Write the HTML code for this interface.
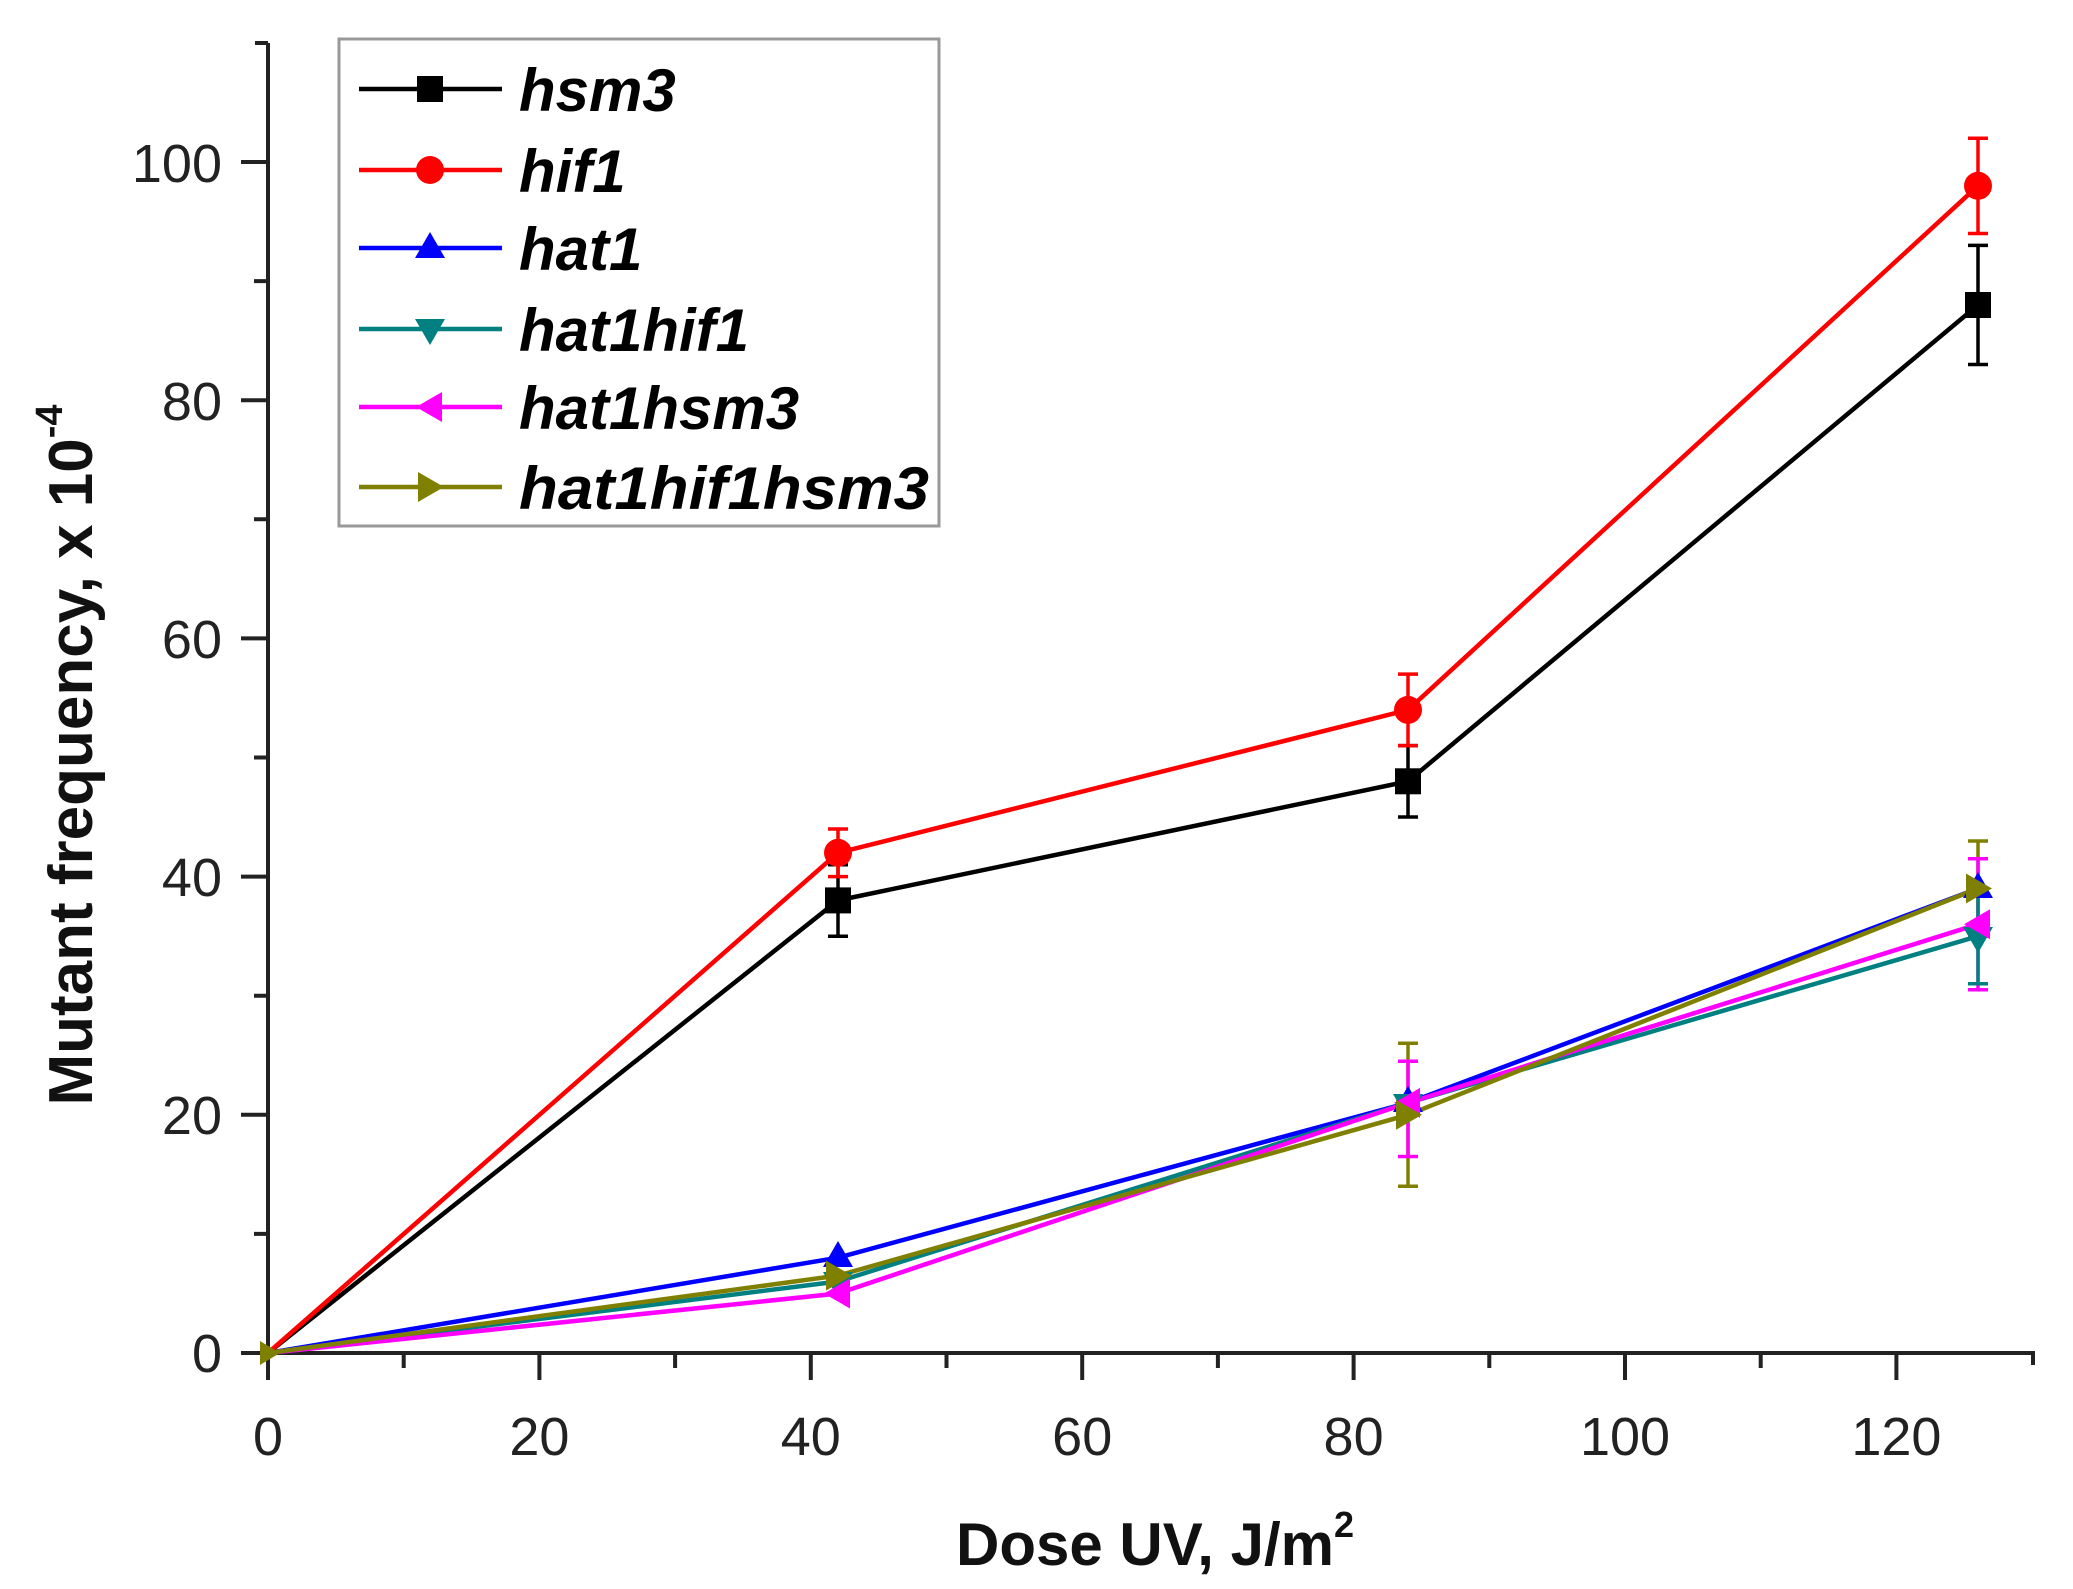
<!DOCTYPE html>
<html><head><meta charset="utf-8"><style>body{margin:0;background:#fff}svg{display:block}</style></head>
<body>
<svg width="2073" height="1589" viewBox="0 0 2073 1589" xmlns="http://www.w3.org/2000/svg" font-family="Liberation Sans, Arial, sans-serif">
<rect width="2073" height="1589" fill="#fff"/>
<g stroke="#222" stroke-width="4" fill="none">
<path d="M268,43 V1353 H2033 V1365"/>
<path d="M255,43 H268"/>
<path d="M241,1353H268M241,1114.8H268M241,876.6H268M241,638.4H268M241,400.2H268M241,162H268"/>
<path d="M254,1233.9H268M254,995.7H268M254,757.5H268M254,519.3H268M254,281.1H268"/>
<path d="M268,1353V1380M539.4,1353V1380M810.8,1353V1380M1082.2,1353V1380M1353.6,1353V1380M1625,1353V1380M1896.4,1353V1380"/>
<path d="M403.7,1353V1368M675.1,1353V1368M946.5,1353V1368M1217.9,1353V1368M1489.3,1353V1368M1760.7,1353V1368"/>
</g>
<g font-size="54" fill="#222" text-anchor="end">
<text x="222" y="1372">0</text><text x="222" y="1134">20</text><text x="222" y="896">40</text><text x="222" y="658">60</text><text x="222" y="420">80</text><text x="222" y="182">100</text>
</g>
<g font-size="54" fill="#222" text-anchor="middle">
<text x="268" y="1455">0</text><text x="539.4" y="1455">20</text><text x="810.8" y="1455">40</text><text x="1082.2" y="1455">60</text><text x="1353.6" y="1455">80</text><text x="1625" y="1455">100</text><text x="1896.4" y="1455">120</text>
</g>
<text x="1155" y="1565" font-size="60" font-weight="bold" text-anchor="middle" fill="#111">Dose UV, J/m<tspan font-size="36" dy="-28">2</tspan></text>
<text transform="translate(92,755) rotate(-90)" font-size="62" font-weight="bold" text-anchor="middle" fill="#111">Mutant frequency, x 10<tspan font-size="38" dy="-30">-4</tspan></text>

<g stroke-width="3.5" fill="none">
<path stroke="#000" d="M838,936.2V864.7M828,936.2H848M828,864.7H848M1408,817V745.6M1398,817H1418M1398,745.6H1418M1978,364.5V245.4M1968,364.5H1988M1968,245.4H1988"/>
<path stroke="#f00" d="M838,876.6V829M828,876.6H848M828,829H848M1408,745.6V674.1M1398,745.6H1418M1398,674.1H1418M1978,233.5V138.2M1968,233.5H1988M1968,138.2H1988"/>
<path stroke="#808000" d="M1408,1186.3V1043.3M1398,1186.3H1418M1398,1043.3H1418M1978,936.2V841M1968,936.2H1988M1968,841H1988"/>
<path stroke="#f0f" d="M1408,1156.5V1061.2M1398,1156.5H1418M1398,1061.2H1418M1978,989.7V858.7M1968,989.7H1988M1968,858.7H1988"/>
<path stroke="#008080" d="M1978,983.8V888.5M1968,983.8H1988M1968,888.5H1988"/>
</g>
<g stroke-width="4.5" fill="none">
<polyline stroke="#00f" points="268,1353 838,1257.7 1408,1102.9 1978,888.5"/>
<polyline stroke="#008080" points="268,1353 838,1281.5 1408,1102.9 1978,936.2"/>
<polyline stroke="#f0f" points="268,1353 838,1293.5 1408,1102.9 1978,924.2"/>
<polyline stroke="#808000" points="268,1353 838,1275.6 1408,1114.8 1978,888.5"/>
<polyline stroke="#000" points="268,1353 838,900.4 1408,781.3 1978,305"/>
<polyline stroke="#f00" points="268,1353 838,852.8 1408,709.9 1978,185.8"/>
</g>
<g fill="#00f"><path d="M838,1241l15,26h-30zM1408,1086l15,26h-30zM1978,872l15,26h-30z"/></g>
<g fill="#008080"><path d="M838,1298l15,-26h-30zM1408,1120l15,-26h-30zM1978,953l15,-26h-30z"/></g>
<g fill="#f0f"><path d="M824,1293.5l26,-15v30zM1394,1102.9l26,-15v30zM1964,924.2l26,-15v30z"/></g>
<g fill="#808000"><path d="M852,1275.6l-26,-15v30zM1422,1114.8l-26,-15v30zM1992,888.5l-26,-15v30zM280,1353l-20,-12v24z"/></g>
<g fill="#000"><rect x="825" y="887.4" width="26" height="26"/><rect x="1395" y="768.3" width="26" height="26"/><rect x="1965" y="292" width="26" height="26"/></g>
<g fill="#f00"><circle cx="838" cy="852.8" r="14"/><circle cx="1408" cy="709.9" r="14"/><circle cx="1978" cy="185.8" r="14"/></g>

<rect x="339" y="39" width="600" height="487" fill="#fff" stroke="#999" stroke-width="3"/>
<g stroke-width="4.5">
<line x1="359" y1="89" x2="502" y2="89" stroke="#000"/>
<line x1="359" y1="170" x2="502" y2="170" stroke="#f00"/>
<line x1="359" y1="248" x2="502" y2="248" stroke="#00f"/>
<line x1="359" y1="329" x2="502" y2="329" stroke="#008080"/>
<line x1="359" y1="407" x2="502" y2="407" stroke="#f0f"/>
<line x1="359" y1="487" x2="502" y2="487" stroke="#808000"/>
</g>
<rect x="417" y="76" width="26" height="26" fill="#000"/>
<circle cx="430" cy="170" r="14" fill="#f00"/>
<path d="M430,232l15,26h-30z" fill="#00f"/>
<path d="M430,345l15,-26h-30z" fill="#008080"/>
<path d="M416,407l26,-15v30z" fill="#f0f"/>
<path d="M444,487l-26,-15v30z" fill="#808000"/>
<g font-size="60" font-weight="bold" font-style="italic" fill="#000">
<text x="519" y="111">hsm3</text>
<text x="519" y="192">hif1</text>
<text x="519" y="270">hat1</text>
<text x="519" y="351">hat1hif1</text>
<text x="519" y="429">hat1hsm3</text>
<text x="519" y="509" textLength="410" lengthAdjust="spacingAndGlyphs">hat1hif1hsm3</text>
</g>
</svg>
</body></html>
